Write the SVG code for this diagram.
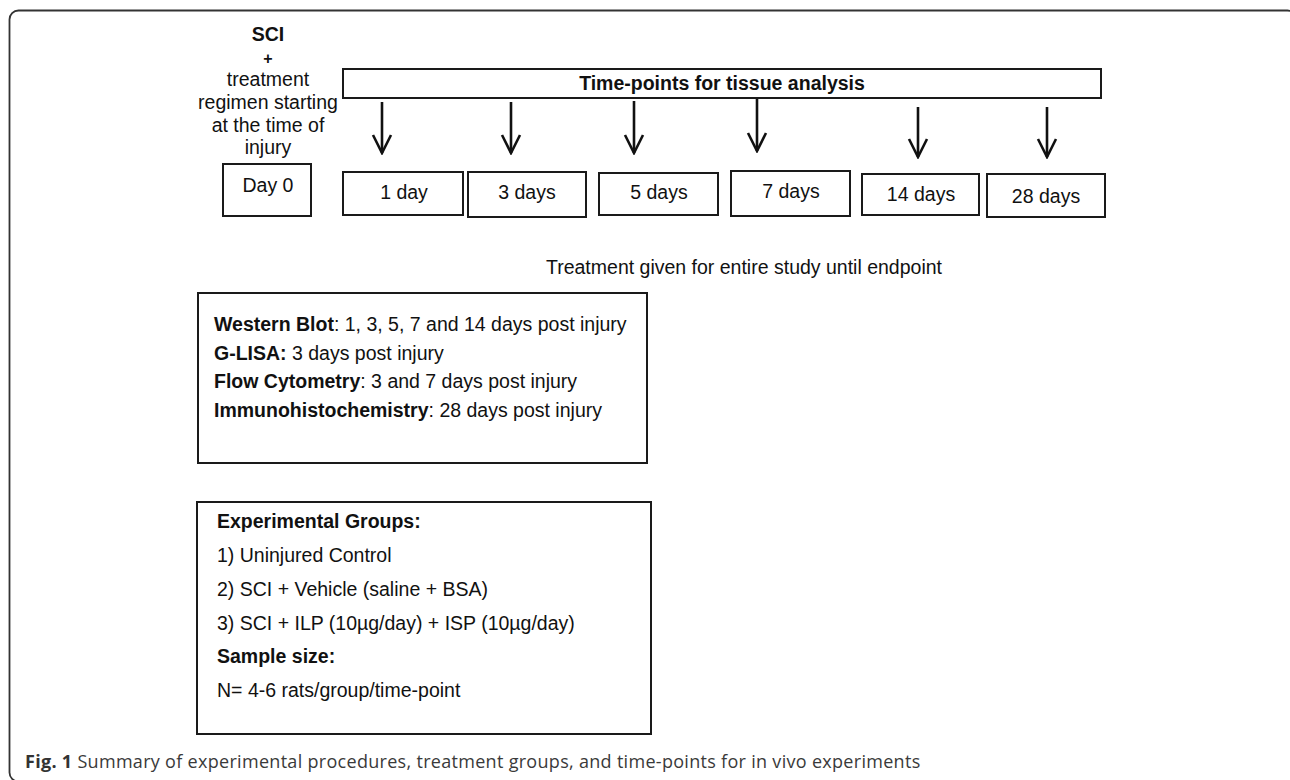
<svg xmlns="http://www.w3.org/2000/svg" width="1290" height="780" viewBox="0 0 1290 780">
<style>
  .t { font-family: "Liberation Sans", Arial, sans-serif; font-size: 19.5px; fill: #111; }
  .c { text-anchor: middle; }
  .b { font-weight: bold; }
  .box { fill: #fff; stroke: #1a1a1a; stroke-width: 2; }
  .arr { stroke: #111; stroke-width: 2.6; fill: none; }
  .cap { font-family: "Open Sans", "Noto Sans", sans-serif; font-size: 18px; letter-spacing: 0.3px; fill: #3a3a3a; }
</style>
<defs>
  <marker id="head" markerUnits="userSpaceOnUse" viewBox="0 0 22 21" refX="11" refY="19.5" markerWidth="22" markerHeight="21" orient="0">
    <path d="M2,1.5 L11,19.5 L20,1.5" fill="none" stroke="#111" stroke-width="2.6"/>
  </marker>
</defs>
<rect x="9.5" y="10.5" width="1287" height="771" rx="9" fill="#fff" stroke="#333" stroke-width="1.8"/>

<g id="start">
  <text class="t c b" x="268" y="41">SCI</text>
  <text class="t c b" x="268" y="63.5" style="font-size:16px">+</text>
  <text class="t c" x="268" y="86">treatment</text>
  <text class="t c" x="268" y="109">regimen starting</text>
  <text class="t c" x="268" y="132">at the time of</text>
  <text class="t c" x="268" y="154">injury</text>
</g>
<g id="day0">
  <rect class="box" x="223" y="164" width="88" height="52"/>
  <text class="t c" x="268" y="192">Day 0</text>
</g>
<g id="timepoints">
  <rect class="box" x="343" y="69" width="758" height="29"/>
  <text class="t c b" x="722" y="90">Time-points for tissue analysis</text>
</g>
<g id="connectors">
  <line class="arr" x1="382" y1="102" x2="382" y2="153" marker-end="url(#head)"/>
  <line class="arr" x1="511" y1="102" x2="511" y2="153" marker-end="url(#head)"/>
  <line class="arr" x1="634" y1="101" x2="634" y2="153" marker-end="url(#head)"/>
  <line class="arr" x1="757" y1="99" x2="757" y2="151" marker-end="url(#head)"/>
  <line class="arr" x1="918" y1="107" x2="918" y2="157" marker-end="url(#head)"/>
  <line class="arr" x1="1047" y1="107" x2="1047" y2="157" marker-end="url(#head)"/>
</g>
<g id="d1">
  <rect class="box" x="343" y="172" width="120" height="43"/>
  <text class="t c" x="404" y="199">1 day</text>
</g>
<g id="d3">
  <rect class="box" x="468" y="172" width="118" height="45"/>
  <text class="t c" x="527" y="199">3 days</text>
</g>
<g id="d5">
  <rect class="box" x="599" y="173" width="119" height="42"/>
  <text class="t c" x="659" y="199">5 days</text>
</g>
<g id="d7">
  <rect class="box" x="731" y="171" width="119" height="45"/>
  <text class="t c" x="791" y="198">7 days</text>
</g>
<g id="d14">
  <rect class="box" x="862" y="174" width="117" height="41"/>
  <text class="t c" x="921" y="201">14 days</text>
</g>
<g id="d28">
  <rect class="box" x="987" y="174" width="118" height="43"/>
  <text class="t c" x="1046" y="203">28 days</text>
</g>
<g id="treatment-note">
  <text class="t" x="546" y="274">Treatment given for entire study until endpoint</text>
</g>
<g id="analyses">
  <rect class="box" x="198" y="293" width="449" height="170"/>
  <text class="t" x="214" y="331"><tspan class="b">Western Blot</tspan>: 1, 3, 5, 7 and 14 days post injury</text>
  <text class="t" x="214" y="359.5"><tspan class="b">G-LISA:</tspan> 3 days post injury</text>
  <text class="t" x="214" y="388"><tspan class="b">Flow Cytometry</tspan>: 3 and 7 days post injury</text>
  <text class="t" x="214" y="416.5"><tspan class="b">Immunohistochemistry</tspan>: 28 days post injury</text>
</g>
<g id="groups">
  <rect class="box" x="197" y="502" width="454" height="232"/>
  <text class="t b" x="217" y="528">Experimental Groups:</text>
  <text class="t" x="217" y="562">1) Uninjured Control</text>
  <text class="t" x="217" y="596">2) SCI + Vehicle (saline + BSA)</text>
  <text class="t" x="217" y="630">3) SCI + ILP (10µg/day) + ISP (10µg/day)</text>
  <text class="t b" x="217" y="663">Sample size:</text>
  <text class="t" x="217" y="697">N= 4-6 rats/group/time-point</text>
</g>
<g id="caption">
  <text class="cap" x="25" y="768"><tspan font-weight="bold" fill="#333">Fig. 1</tspan> Summary of experimental procedures, treatment groups, and time-points for in vivo experiments</text>
</g>
</svg>
